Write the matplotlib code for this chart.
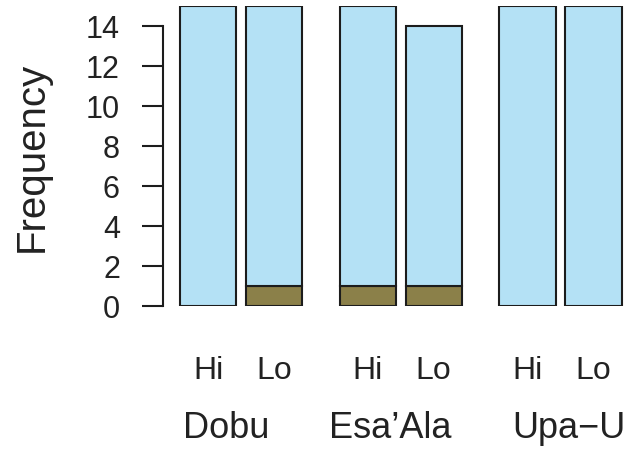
import numpy as np
import matplotlib.pyplot as plt
from matplotlib.transforms import blended_transform_factory

plt.rcParams['font.family'] = ['Liberation Sans', 'DejaVu Sans']

# Dados
grupos = ['Dobu', "Esa\u2019Ala", 'Upa\u2212U']
niveis = ['Hi', 'Lo']
escuro = [0, 1, 1, 1, 0, 0]      # segmento inferior (oliva)
claro = [15, 14, 14, 13, 15, 15]  # segmento superior (azul claro)
yticks = [0, 2, 4, 6, 8, 10, 12, 14]

cor_claro = '#B4E1F5'
cor_escuro = '#8B8049'
cor_borda = '#1c1c1c'

# Posições das barras
passo_grupo = 2.42
x = np.array([g * passo_grupo + k for g in range(3) for k in range(2)])
largura = 0.85

fig = plt.figure(figsize=(6.32, 4.53), dpi=100)
ax = fig.add_axes([163/632, 1 - 306/453, 469/632, 300/453])

ax.bar(x, escuro, width=largura, color=cor_escuro, edgecolor=cor_borda, lw=1.5)
ax.bar(x, claro, width=largura, bottom=escuro, color=cor_claro,
       edgecolor=cor_borda, lw=1.5)

ax.set_xlim(-0.682, 6.424)
ax.set_ylim(0, 15)
for s in ['top', 'right', 'bottom']:
    ax.spines[s].set_visible(False)
ax.spines['left'].set_bounds(0, 14)
ax.spines['left'].set_linewidth(1.5)
ax.spines['left'].set_color(cor_borda)
ax.set_xticks([])
ax.set_yticks(yticks)
ax.tick_params(axis='y', length=15, width=1.5, color=cor_borda, pad=16,
               labelsize=22, labelcolor='#222222')

fig.text(32/632, 1 - 157/453, 'Frequency', rotation=90, ha='center',
         va='center', fontsize=29, color='#222222')

tr = blended_transform_factory(ax.transData, fig.transFigure)
for xi, k in zip(x, range(6)):
    ax.text(xi, 1 - 371/453, niveis[k % 2], transform=tr, ha='center',
            va='center', fontsize=23, color='#222222', clip_on=False)

centros_rotulo = [0.273, 2.757, 5.47]
for xc, nome in zip(centros_rotulo, grupos):
    ax.text(xc, 1 - 429/453, nome, transform=tr, ha='center', va='center',
            fontsize=26, color='#222222', clip_on=False)

fig.savefig('out.png', dpi=100)
